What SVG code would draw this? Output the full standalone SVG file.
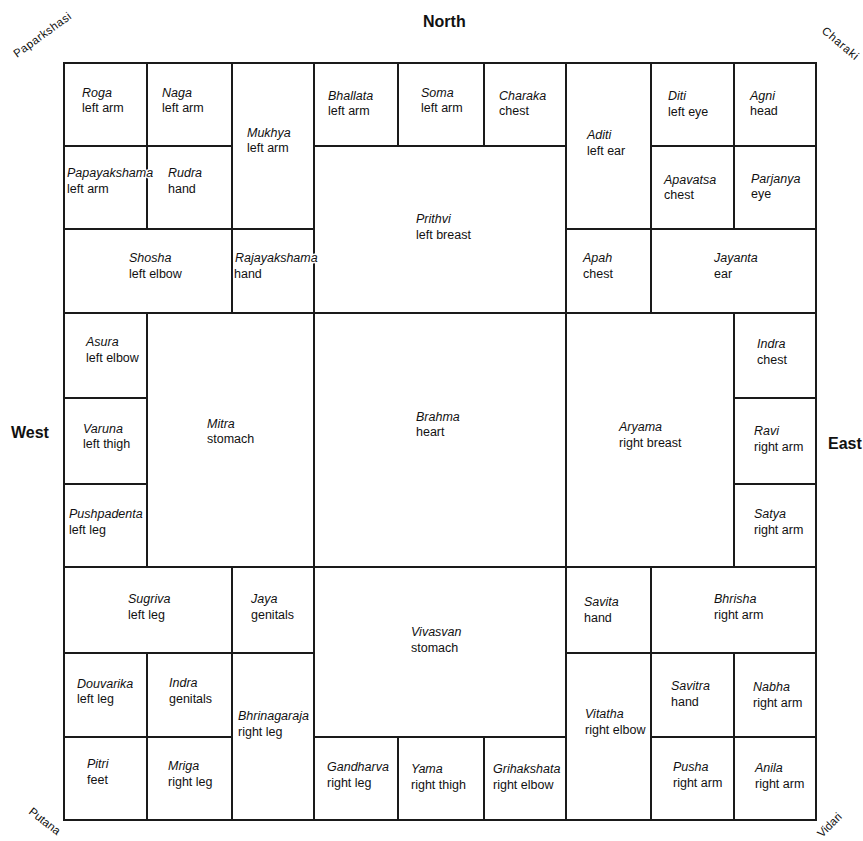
<svg xmlns="http://www.w3.org/2000/svg" width="863" height="841" viewBox="0 0 863 841">
<style>
  .bg { fill: #ffffff; }
  .cell { fill: none; stroke: #1a1a1a; stroke-width: 2; }
  text { font-family: "Liberation Sans", Arial, Helvetica, sans-serif; fill: #111; }
  .lbl { font-size: 12.5px; paint-order: stroke; stroke: #ffffff; stroke-width: 3px; stroke-linejoin: round; }
  .nm { font-style: italic; }
  .dir { font-size: 16px; font-weight: bold; }
  .corner { font-size: 11.5px; }
</style>
<rect class="bg" x="0" y="0" width="863" height="841"/>

<g id="directions">
  <text class="dir" x="423" y="27">North</text>
  <text class="dir" x="11" y="438">West</text>
  <text class="dir" x="828" y="449">East</text>
</g>
<g id="corners">
  <text class="corner" transform="translate(17,58) rotate(-36)" textLength="68">Paparkshasi</text>
  <text class="corner" transform="translate(821,32) rotate(40)" textLength="44">Charaki</text>
  <text class="corner" transform="translate(28,813) rotate(38)">Putana</text>
  <text class="corner" transform="translate(822,838) rotate(-45)">Vidari</text>
</g>

<g id="connectors"></g>

<g id="roga"><rect class="cell" x="64" y="63" width="83" height="83"/><text class="lbl" x="82" y="97"><tspan class="nm">Roga</tspan><tspan x="82" dy="15">left arm</tspan></text></g>
<g id="naga"><rect class="cell" x="147" y="63" width="85" height="83"/><text class="lbl" x="162" y="97"><tspan class="nm">Naga</tspan><tspan x="162" dy="15">left arm</tspan></text></g>
<g id="rudra"><rect class="cell" x="147" y="146" width="85" height="83"/><text class="lbl" x="168" y="177"><tspan class="nm">Rudra</tspan><tspan x="168" dy="16">hand</tspan></text></g>
<g id="mukhya"><rect class="cell" x="232" y="63" width="82" height="166"/><text class="lbl" x="247" y="137"><tspan class="nm">Mukhya</tspan><tspan x="247" dy="15">left arm</tspan></text></g>
<g id="bhallata"><rect class="cell" x="314" y="63" width="84" height="83"/><text class="lbl" x="328" y="100"><tspan class="nm">Bhallata</tspan><tspan x="328" dy="15">left arm</tspan></text></g>
<g id="soma"><rect class="cell" x="398" y="63" width="86" height="83"/><text class="lbl" x="421" y="97"><tspan class="nm">Soma</tspan><tspan x="421" dy="15">left arm</tspan></text></g>
<g id="charaka"><rect class="cell" x="484" y="63" width="82" height="83"/><text class="lbl" x="499" y="100"><tspan class="nm">Charaka</tspan><tspan x="499" dy="15">chest</tspan></text></g>
<g id="prithvi"><rect class="cell" x="314" y="146" width="252" height="167"/><text class="lbl" x="416" y="223"><tspan class="nm">Prithvi</tspan><tspan x="416" dy="16">left breast</tspan></text></g>
<g id="aditi"><rect class="cell" x="566" y="63" width="85" height="166"/><text class="lbl" x="587" y="139"><tspan class="nm">Aditi</tspan><tspan x="587" dy="16">left ear</tspan></text></g>
<g id="diti"><rect class="cell" x="651" y="63" width="83" height="83"/><text class="lbl" x="668" y="100"><tspan class="nm">Diti</tspan><tspan x="668" dy="16">left eye</tspan></text></g>
<g id="agni"><rect class="cell" x="734" y="63" width="82" height="83"/><text class="lbl" x="750" y="100"><tspan class="nm">Agni</tspan><tspan x="750" dy="15">head</tspan></text></g>
<g id="apavatsa"><rect class="cell" x="651" y="146" width="83" height="83"/><text class="lbl" x="664" y="184"><tspan class="nm">Apavatsa</tspan><tspan x="664" dy="15">chest</tspan></text></g>
<g id="parjanya"><rect class="cell" x="734" y="146" width="82" height="83"/><text class="lbl" x="751" y="183"><tspan class="nm">Parjanya</tspan><tspan x="751" dy="15">eye</tspan></text></g>
<g id="shosha"><rect class="cell" x="64" y="229" width="168" height="84"/><text class="lbl" x="129" y="262"><tspan class="nm">Shosha</tspan><tspan x="129" dy="16">left elbow</tspan></text></g>
<g id="apah"><rect class="cell" x="566" y="229" width="85" height="84"/><text class="lbl" x="583" y="262"><tspan class="nm">Apah</tspan><tspan x="583" dy="16">chest</tspan></text></g>
<g id="jayanta"><rect class="cell" x="651" y="229" width="165" height="84"/><text class="lbl" x="714" y="262"><tspan class="nm">Jayanta</tspan><tspan x="714" dy="16">ear</tspan></text></g>

<g id="asura"><rect class="cell" x="64" y="313" width="83" height="85"/><text class="lbl" x="86" y="346"><tspan class="nm">Asura</tspan><tspan x="86" dy="16">left elbow</tspan></text></g>
<g id="varuna"><rect class="cell" x="64" y="398" width="83" height="86"/><text class="lbl" x="83" y="433"><tspan class="nm">Varuna</tspan><tspan x="83" dy="15">left thigh</tspan></text></g>
<g id="pushpadenta"><rect class="cell" x="64" y="484" width="83" height="83"/><text class="lbl" x="69" y="518"><tspan class="nm">Pushpadenta</tspan><tspan x="69" dy="16">left leg</tspan></text></g>
<g id="mitra"><rect class="cell" x="147" y="313" width="167" height="254"/><text class="lbl" x="207" y="428"><tspan class="nm">Mitra</tspan><tspan x="207" dy="15">stomach</tspan></text></g>
<g id="brahma"><rect class="cell" x="314" y="313" width="252" height="254"/><text class="lbl" x="416" y="421"><tspan class="nm">Brahma</tspan><tspan x="416" dy="15">heart</tspan></text></g>
<g id="aryama"><rect class="cell" x="566" y="313" width="168" height="254"/><text class="lbl" x="619" y="431"><tspan class="nm">Aryama</tspan><tspan x="619" dy="16">right breast</tspan></text></g>
<g id="indra-east"><rect class="cell" x="734" y="313" width="82" height="85"/><text class="lbl" x="757" y="348"><tspan class="nm">Indra</tspan><tspan x="757" dy="16">chest</tspan></text></g>
<g id="ravi"><rect class="cell" x="734" y="398" width="82" height="86"/><text class="lbl" x="754" y="435"><tspan class="nm">Ravi</tspan><tspan x="754" dy="16">right arm</tspan></text></g>
<g id="satya"><rect class="cell" x="734" y="484" width="82" height="83"/><text class="lbl" x="754" y="518"><tspan class="nm">Satya</tspan><tspan x="754" dy="16">right arm</tspan></text></g>

<g id="sugriva"><rect class="cell" x="64" y="567" width="168" height="86"/><text class="lbl" x="128" y="603"><tspan class="nm">Sugriva</tspan><tspan x="128" dy="16">left leg</tspan></text></g>
<g id="jaya"><rect class="cell" x="232" y="567" width="82" height="86"/><text class="lbl" x="251" y="603"><tspan class="nm">Jaya</tspan><tspan x="251" dy="16">genitals</tspan></text></g>
<g id="vivasvan"><rect class="cell" x="314" y="567" width="252" height="170"/><text class="lbl" x="411" y="636"><tspan class="nm">Vivasvan</tspan><tspan x="411" dy="16">stomach</tspan></text></g>
<g id="savita"><rect class="cell" x="566" y="567" width="85" height="86"/><text class="lbl" x="584" y="606"><tspan class="nm">Savita</tspan><tspan x="584" dy="16">hand</tspan></text></g>
<g id="bhrisha"><rect class="cell" x="651" y="567" width="165" height="86"/><text class="lbl" x="714" y="603"><tspan class="nm">Bhrisha</tspan><tspan x="714" dy="16">right arm</tspan></text></g>

<g id="douvarika"><rect class="cell" x="64" y="653" width="83" height="84"/><text class="lbl" x="77" y="688"><tspan class="nm">Douvarika</tspan><tspan x="77" dy="15">left leg</tspan></text></g>
<g id="indra-west"><rect class="cell" x="147" y="653" width="85" height="84"/><text class="lbl" x="169" y="687"><tspan class="nm">Indra</tspan><tspan x="169" dy="16">genitals</tspan></text></g>
<g id="pitri"><rect class="cell" x="64" y="737" width="83" height="83"/><text class="lbl" x="87" y="768"><tspan class="nm">Pitri</tspan><tspan x="87" dy="16">feet</tspan></text></g>
<g id="mriga"><rect class="cell" x="147" y="737" width="85" height="83"/><text class="lbl" x="168" y="770"><tspan class="nm">Mriga</tspan><tspan x="168" dy="16">right leg</tspan></text></g>
<g id="bhrinagaraja"><rect class="cell" x="232" y="653" width="82" height="167"/><text class="lbl" x="238" y="720"><tspan class="nm">Bhrinagaraja</tspan><tspan x="238" dy="16">right leg</tspan></text></g>
<g id="gandharva"><rect class="cell" x="314" y="737" width="84" height="83"/><text class="lbl" x="327" y="771"><tspan class="nm">Gandharva</tspan><tspan x="327" dy="16">right leg</tspan></text></g>
<g id="yama"><rect class="cell" x="398" y="737" width="86" height="83"/><text class="lbl" x="411" y="773"><tspan class="nm">Yama</tspan><tspan x="411" dy="16">right thigh</tspan></text></g>
<g id="grihakshata"><rect class="cell" x="484" y="737" width="82" height="83"/><text class="lbl" x="493" y="773"><tspan class="nm">Grihakshata</tspan><tspan x="493" dy="16">right elbow</tspan></text></g>
<g id="vitatha"><rect class="cell" x="566" y="653" width="85" height="167"/><text class="lbl" x="585" y="718"><tspan class="nm">Vitatha</tspan><tspan x="585" dy="16">right elbow</tspan></text></g>
<g id="savitra"><rect class="cell" x="651" y="653" width="83" height="84"/><text class="lbl" x="671" y="690"><tspan class="nm">Savitra</tspan><tspan x="671" dy="16">hand</tspan></text></g>
<g id="nabha"><rect class="cell" x="734" y="653" width="82" height="84"/><text class="lbl" x="753" y="691"><tspan class="nm">Nabha</tspan><tspan x="753" dy="16">right arm</tspan></text></g>
<g id="pusha"><rect class="cell" x="651" y="737" width="83" height="83"/><text class="lbl" x="673" y="771"><tspan class="nm">Pusha</tspan><tspan x="673" dy="16">right arm</tspan></text></g>
<g id="anila"><rect class="cell" x="734" y="737" width="82" height="83"/><text class="lbl" x="755" y="772"><tspan class="nm">Anila</tspan><tspan x="755" dy="16">right arm</tspan></text></g>

<g id="papayakshama"><rect class="cell" x="64" y="146" width="83" height="83"/><text class="lbl" x="67" y="177"><tspan class="nm">Papayakshama</tspan><tspan x="67" dy="16">left arm</tspan></text></g>
<g id="rajayakshama"><rect class="cell" x="232" y="229" width="82" height="84"/><text class="lbl" x="235" y="262"><tspan class="nm">Rajayakshama</tspan><tspan x="234" dy="16">hand</tspan></text></g>
</svg>
